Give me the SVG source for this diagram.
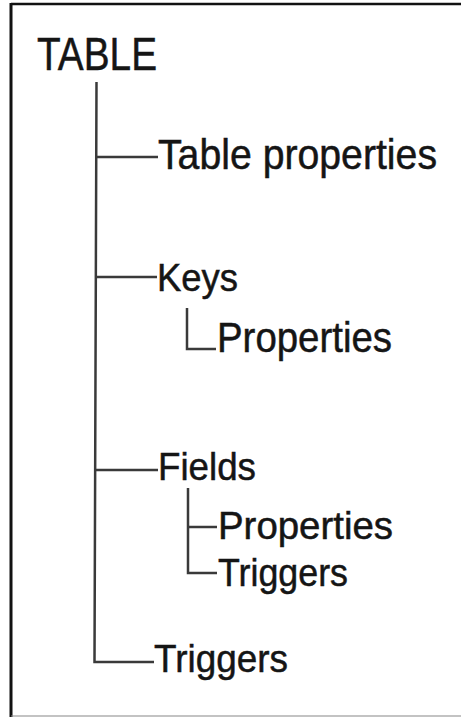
<svg xmlns="http://www.w3.org/2000/svg" width="461" height="717" viewBox="0 0 461 717">
<style>
.t{font-family:"Liberation Sans",Arial,sans-serif;fill:#151515;stroke:#151515;stroke-width:0.5}
.c{stroke:#3a3a3a;stroke-width:2.5;fill:none;stroke-linecap:butt}
</style>
<rect x="0" y="0" width="461" height="717" fill="#ffffff"/>
<g id="frame">
<line x1="11" y1="4" x2="461" y2="4" stroke="#111" stroke-width="2.5"/>
<line x1="11" y1="3" x2="11" y2="717" stroke="#111" stroke-width="3"/>
<line x1="11" y1="716" x2="461" y2="716" stroke="#888" stroke-width="1.2"/>
</g>
<g id="connectors">
<path class="c" d="M96.5 82 L94.5 662 H154"/>
<path class="c" d="M96.2 157 H158"/>
<path class="c" d="M95.8 277 H157"/>
<path class="c" d="M95.1 470 H158"/>
<path class="c" d="M187 308 V349 H216"/>
<path class="c" d="M188 488 V573 H217"/>
<path class="c" d="M188 527 H217"/>
</g>
<g id="n-table"><text class="t" x="37" y="69.5" font-size="46" textLength="120" lengthAdjust="spacingAndGlyphs">TABLE</text></g>
<g id="n-table-properties"><text class="t" x="158" y="169" font-size="42" textLength="279" lengthAdjust="spacingAndGlyphs">Table properties</text></g>
<g id="n-keys"><text class="t" x="157" y="291" font-size="39" textLength="81" lengthAdjust="spacingAndGlyphs">Keys</text></g>
<g id="n-keys-properties"><text class="t" x="217" y="352" font-size="42" textLength="175" lengthAdjust="spacingAndGlyphs">Properties</text></g>
<g id="n-fields"><text class="t" x="158" y="480" font-size="39" textLength="98" lengthAdjust="spacingAndGlyphs">Fields</text></g>
<g id="n-fields-properties"><text class="t" x="218" y="539" font-size="38" textLength="175" lengthAdjust="spacingAndGlyphs">Properties</text></g>
<g id="n-fields-triggers"><text class="t" x="218" y="586" font-size="39" textLength="130" lengthAdjust="spacingAndGlyphs">Triggers</text></g>
<g id="n-triggers"><text class="t" x="154" y="672" font-size="39" textLength="134" lengthAdjust="spacingAndGlyphs">Triggers</text></g>
</svg>
